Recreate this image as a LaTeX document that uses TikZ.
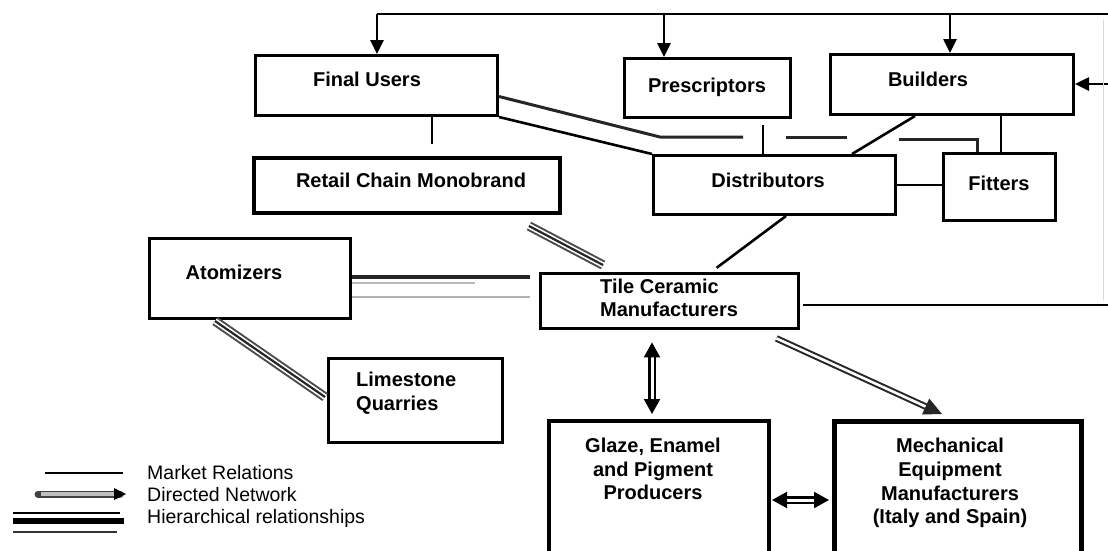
\documentclass[tikz,border=0pt]{standalone}
\usepackage{fontspec}
\setmainfont{Liberation Sans}
\usetikzlibrary{arrows.meta,calc}
\begin{document}
\begin{tikzpicture}[x=1pt,y=-1pt,
  box/.style={draw, line width=3pt, anchor=north west, inner sep=0pt},
  lbl/.style={font=\bfseries\fontsize{20}{23.5}\selectfont, inner sep=0pt},
  leg/.style={font=\fontsize{19.5}{20}\selectfont, inner sep=0pt, anchor=mid west},
  mkt/.style={line width=2.6pt},
  arr/.style={mkt, -{Triangle[length=14pt,width=13pt]}},
  dn/.style={line width=3pt, black!85},
  hier/.style={draw=black!85, line width=2.2pt, preaction={draw=black!70, line width=9.5pt}, preaction={draw=white, line width=5.5pt}},
  dbl/.style={draw=black, line width=2.2pt, double=white, double distance=3pt, {Triangle[length=15pt,width=16pt]}-{Triangle[length=15pt,width=16pt]}},
  dir2/.style={draw=black!85, line width=2pt, double=white, double distance=2.6pt, -{Triangle[length=18pt,width=17pt]}}
]
\useasboundingbox (0,0) rectangle (1108,550);
\clip (0,0) rectangle (1108,550);
\fill[white] (0,0) rectangle (1108,550);

% boxes
\node[box, minimum width=242pt, minimum height=60pt] (fu) at (254,54) {};
\node[box, minimum width=166pt, minimum height=59pt] (pr) at (623,57) {};
\node[box, minimum width=243pt, minimum height=60pt] (bu) at (829,53) {};
\node[box, line width=4pt, minimum width=306pt, minimum height=55pt] (rc) at (252,156) {};
\node[box, minimum width=242pt, minimum height=59pt] (di) at (652,154) {};
\node[box, line width=2.6pt, minimum width=112pt, minimum height=67pt] (fi) at (942,152) {};
\node[box, minimum width=201pt, minimum height=80pt] (at) at (148,237) {};
\node[box, line width=3.4pt, minimum width=258pt, minimum height=55pt] (tile) at (539,272) {};
\node[box, minimum width=174pt, minimum height=84pt] (ls) at (327,357) {};
\node[box, line width=4pt, minimum width=220pt, minimum height=160pt] (gl) at (547,419) {};
\node[box, line width=4.5pt, minimum width=247pt, minimum height=160pt] (me) at (832,419) {};

% labels
\node[lbl, anchor=mid] (fuT) at (367,84) {Final Users};
\node[lbl, anchor=mid] (prT) at (707,90) {Prescriptors};
\node[lbl, anchor=mid] (buT) at (928,84) {Builders};
\node[lbl, anchor=mid] (rcT) at (411,185) {Retail Chain Monobrand};
\node[lbl, anchor=mid] (diT) at (768,185) {Distributors};
\node[lbl, anchor=mid] (fiT) at (999,188) {Fitters};
\node[lbl, anchor=mid] (atT) at (234,277) {Atomizers};
\node[lbl, anchor=west, align=left, font=\bfseries\fontsize{20}{23}\selectfont] (tileT) at (600,298) {Tile Ceramic\\Manufacturers};
\node[lbl, anchor=west, align=left, font=\bfseries\fontsize{20}{24}\selectfont] (lsT) at (356,393) {Limestone\\Quarries};
\node[lbl, align=center] (glT) at (653,469) {Glaze, Enamel\\and Pigment\\Producers};
\node[lbl, align=center, font=\bfseries\fontsize{20}{23.7}\selectfont] (meT) at (950,483) {Mechanical\\Equipment\\Manufacturers\\(Italy and Spain)};

% coordinates
\coordinate (tl) at (377,14);
\coordinate (tr) at (1108,14);
\coordinate (tp) at (664,14);
\coordinate (tb) at (950,14);
\coordinate (rb) at (1108,84);
\coordinate (rt) at (1108,305);
\coordinate (cfr) at (432,0);
\coordinate (cp) at (763,0);
\coordinate (cbd1) at (915,0);
\coordinate (cbd2) at (852,0);
\coordinate (cbf) at (1001,0);
\coordinate (cdt1) at (786,0);
\coordinate (cdt2) at (711,0);
\coordinate (cg) at (652,0);
\coordinate (cgm) at (0,500);
\coordinate (d1) at (660,137);
\coordinate (d2) at (743,137);
\coordinate (d3) at (786,137);
\coordinate (d4) at (847,137);
\coordinate (d5) at (899,139);
\coordinate (d6) at (977,139);
\coordinate (h1) at (530,277);
\coordinate (h2) at (475,283);
\coordinate (h3) at (530,297);

% feedback line along the top
\draw[mkt] (tr) -- (tl);
\draw[arr] (tl) -- (tl |- fu.north);
\draw[arr] (tp) -- (tp |- pr.north);
\draw[arr] (tb) -- (tb |- bu.north);
\draw[arr] (rb) -- (bu.east |- rb);
\draw[gray!30, line width=1pt] (1103,20) -- (1103,300);
\draw[mkt] ([xshift=3pt]tile.east |- rt) -- (rt);

% market relations
\draw[mkt, shorten >=12pt] (fu.south -| cfr) -- (rc.north -| cfr);
\draw[mkt] (fu.south east) -- (di.north west);
\draw[mkt, shorten <=6pt] (pr.south -| cp) -- (di.north -| cp);
\draw[mkt] (bu.south -| cbd1) -- (di.north -| cbd2);
\draw[mkt] (bu.south -| cbf) -- (fi.north -| cbf);
\draw[mkt] (di.east) -- (fi.west |- di.east);
\draw[mkt, shorten >=7pt] (di.south -| cdt1) -- (tile.north -| cdt2);

% directed network Final Users -> Fitters
\draw[dn] ([yshift=-11pt]fu.east) -- (d1) -- (d2);
\draw[dn] (d3) -- (d4);
\draw[dn] (d5) -- (d6) -- (d6 |- fi.north);

% hierarchical relationships
\draw[hier] ([shift={(-33,11)}]rc.south east) -- ([shift={(64,-7)}]tile.north west);
\draw[hier] ([shift={(67,1)}]at.south west) -- ([shift={(-2,40)}]ls.north west);
\draw[line width=4pt, black!85] (at.east |- h1) -- (h1);
\draw[line width=2.2pt, gray!55] (at.east |- h2) -- (h2);
\draw[line width=2pt, gray!60] (at.east |- h3) -- (h3);

% double arrows
\draw[dbl, shorten <=12pt, shorten >=5pt] (tile.south -| cg) -- (gl.north -| cg);
\draw[dbl, shorten <=1pt, shorten >=3pt] (gl.east |- cgm) -- (me.west |- cgm);
\draw[dir2] ([shift={(-24,8)}]tile.south east) -- ([shift={(110,-5)}]me.north west);

% legend
\draw[line width=2.4pt] (45,473) -- (123,473);
\draw[line width=7pt, black!75, line cap=round] (38,494) -- (120,494);
\draw[line width=3.8pt, gray!50] (41,494) -- (114,494);
\fill[black] (126,494) -- (114,488) -- (114,500) -- cycle;
\draw[line width=2.2pt] (13,513) -- (120,513);
\draw[line width=5.5pt] (13,521) -- (124,521);
\draw[line width=2.2pt, black!80] (13,532) -- (117,532);
\node[leg] (l1) at (147,477) {Market Relations};
\node[leg] (l2) at (147,499) {Directed Network};
\node[leg] (l3) at (147,521) {Hierarchical relationships};
\end{tikzpicture}
\end{document}
